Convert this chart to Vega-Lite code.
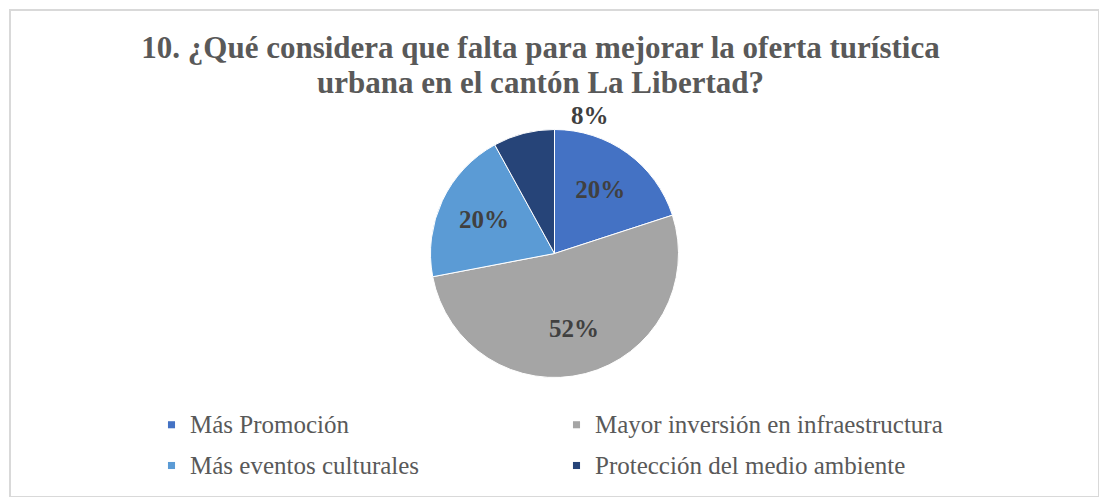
{
  "$schema": "https://vega.github.io/schema/vega-lite/v6.json",
  "width": 1089,
  "height": 487,
  "autosize": {"type": "none"},
  "padding": {"left": 10, "top": 10, "right": 0, "bottom": 0},
  "background": "white",
  "view": {"stroke": "#d9d9d9", "strokeWidth": 2},
  "data": {
    "values": [
      {"idx": 1, "categoria": "Más Promoción", "valor": 20, "etiqueta": "20%"},
      {"idx": 2, "categoria": "Mayor inversión en  infraestructura", "valor": 52, "etiqueta": "52%"},
      {"idx": 3, "categoria": "Más eventos culturales", "valor": 20, "etiqueta": "20%"},
      {"idx": 4, "categoria": "Protección del medio ambiente", "valor": 8, "etiqueta": "8%"}
    ]
  },
  "title": {
    "text": ["10. ¿Qué considera que falta para mejorar la oferta turística", "urbana  en el cantón La Libertad?"],
    "font": "Liberation Serif",
    "fontSize": 31,
    "fontWeight": "bold",
    "color": "#595959",
    "anchor": "middle",
    "frame": "group",
    "baseline": "top",
    "offset": -90,
    "dx": -14,
    "lineHeight": 35
  },
  "encoding": {
    "theta": {"field": "valor", "type": "quantitative", "stack": true},
    "order": {"field": "idx", "type": "quantitative"},
    "color": {
      "field": "categoria",
      "type": "nominal",
      "sort": null,
      "scale": {
        "domain": ["Más Promoción", "Mayor inversión en  infraestructura", "Más eventos culturales", "Protección del medio ambiente"],
        "range": ["#4472C4", "#A5A5A5", "#5B9BD5", "#264478"]
      },
      "legend": {
        "title": null,
        "orient": "none",
        "legendX": 149,
        "legendY": 402,
        "direction": "horizontal",
        "columns": 2,
        "columnPadding": 144,
        "rowPadding": 15,
        "symbolType": "square",
        "symbolSize": 50,
        "symbolStrokeWidth": 0,
        "labelFont": "Liberation Serif",
        "labelFontSize": 25,
        "labelColor": "#595959",
        "labelOffset": 6,
        "labelLimit": 500
      }
    }
  },
  "layer": [
    {
      "mark": {"type": "arc", "outerRadius": 124, "stroke": "white", "strokeWidth": 1}
    },
    {
      "transform": [{"filter": "datum.valor > 10"}],
      "mark": {"type": "text", "radius": 78, "font": "Liberation Serif", "fontSize": 25, "fontWeight": "bold", "fill": "#404040"},
      "encoding": {"text": {"field": "etiqueta"}, "color": {"value": "#404040"}}
    },
    {
      "transform": [{"filter": "datum.valor <= 10"}],
      "mark": {"type": "text", "radius": 142, "font": "Liberation Serif", "fontSize": 25, "fontWeight": "bold", "fill": "#404040"},
      "encoding": {"text": {"field": "etiqueta"}, "color": {"value": "#404040"}}
    }
  ],
  "config": {
    "view": {"stroke": "#d9d9d9", "strokeWidth": 2}
  }
}
